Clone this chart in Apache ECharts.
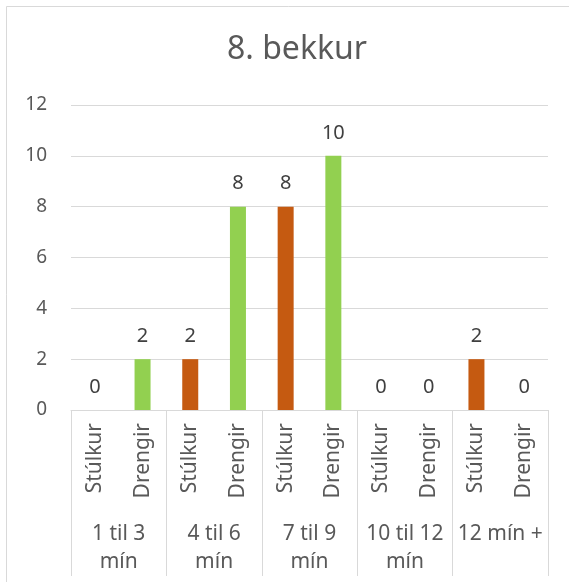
<!DOCTYPE html>
<html>
<head>
<meta charset="utf-8">
<script src="https://cdn.jsdelivr.net/npm/echarts@6/dist/echarts.min.js"></script>
<style>html,body{margin:0;padding:0;background:#fff}#c{width:569px;height:582px}</style>
</head>
<body>
<div id="c"></div>
<script>
var groups = ['1 til 3\nmín', '4 til 6\nmín', '7 til 9\nmín', '10 til 12\nmín', '12 mín +'];
var seriesNames = ['Stúlkur', 'Drengir'];
var stulkur = [0, 2, 8, 0, 2];
var drengir = [2, 8, 10, 0, 0];
var yTicks = { min: 0, max: 12, interval: 2 };
var colors = { 'Stúlkur': '#C55A11', 'Drengir': '#92D050' };

var cats = [];
var data = [];
groups.forEach(function (g, i) {
  cats.push(seriesNames[0]);
  data.push({ value: stulkur[i], itemStyle: { color: colors[seriesNames[0]] } });
  cats.push(seriesNames[1]);
  data.push({ value: drengir[i], itemStyle: { color: colors[seriesNames[1]] } });
});

var FONT = 'Noto Sans';
var chart = echarts.init(document.getElementById('c'), null, { renderer: 'canvas' });
chart.setOption({
  animation: false,
  backgroundColor: '#fff',
  graphic: [{
    type: 'rect', shape: { x: 6.5, y: 6.5, width: 700, height: 700 },
    style: { fill: 'none', stroke: '#D9D9D9', lineWidth: 1 }, silent: true, z: -1
  }],
  title: {
    text: '8. bekkur', left: 292, top: 29, textAlign: 'center',
    textStyle: { fontFamily: FONT, fontSize: 32, fontWeight: 'normal', color: '#595959' }
  },
  grid: { left: 71, right: 21, top: 105, bottom: 172, containLabel: false },
  xAxis: [{
    type: 'category', data: cats, position: 'bottom',
    axisLine: { show: true, lineStyle: { color: '#D9D9D9', width: 1 } },
    axisTick: { show: false },
    axisLabel: { rotate: 90, interval: 0, margin: 13, fontFamily: FONT, fontSize: 21, color: '#595959' }
  }, {
    type: 'category', data: groups, position: 'bottom',
    axisLine: { show: false },
    axisTick: { show: true, interval: 0, length: 166, lineStyle: { color: '#D9D9D9', width: 1 } },
    axisLabel: { interval: 0, margin: 110, fontFamily: FONT, fontSize: 21, lineHeight: 28, color: '#595959' }
  }],
  yAxis: {
    type: 'value', min: yTicks.min, max: yTicks.max, interval: yTicks.interval,
    axisLine: { show: false }, axisTick: { show: false },
    splitLine: { lineStyle: { color: '#D9D9D9', width: 1 } },
    axisLabel: { margin: 24, fontFamily: FONT, fontSize: 19, color: '#595959' }
  },
  series: [{
    type: 'bar', xAxisIndex: 0, data: data, barWidth: 16,
    label: { show: true, position: 'top', distance: 13, fontFamily: FONT, fontSize: 20, color: '#404040' }
  }]
});
</script>
</body>
</html>
